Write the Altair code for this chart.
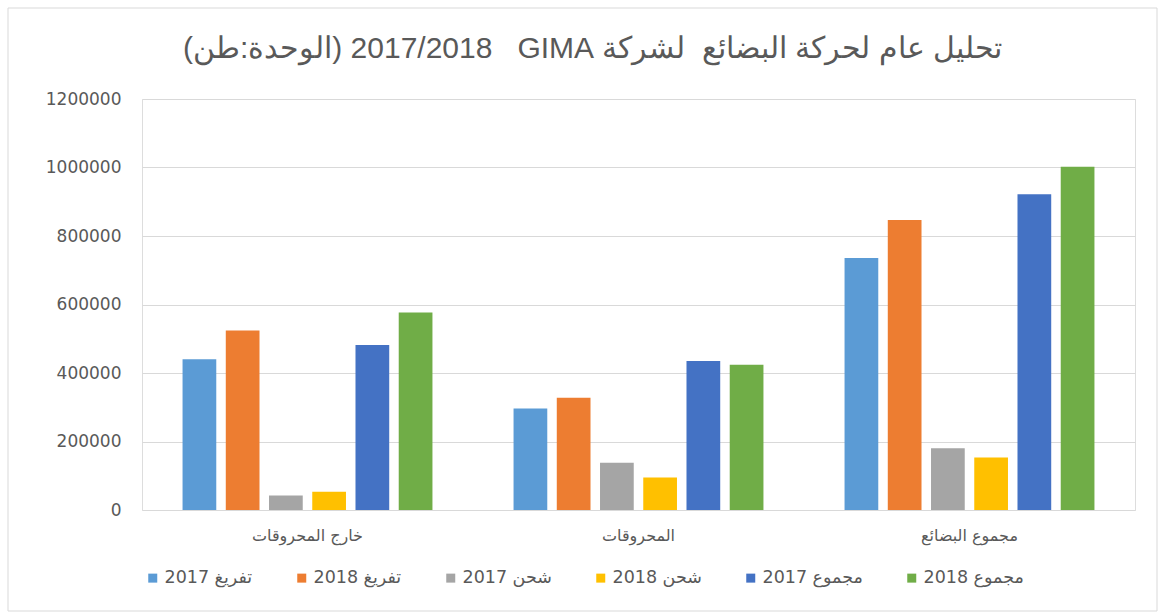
import altair as alt
import pandas as pd

categories = ["خارج المحروقات", "المحروقات", "مجموع البضائع"]
series = ["تفريغ 2017", "تفريغ 2018", "شحن 2017", "شحن 2018", "مجموع 2017", "مجموع 2018"]
colors = ["#5B9BD5", "#ED7D31", "#A5A5A5", "#FFC000", "#4472C4", "#70AD47"]

unload_2017 = [440000, 296000, 736000]
unload_2018 = [524000, 328000, 847000]
load_2017 = [42000, 138000, 180000]
load_2018 = [53000, 95000, 153000]
total_2017 = [482000, 435000, 922000]
total_2018 = [577000, 424000, 1002000]

y_ticks = [0, 200000, 400000, 600000, 800000, 1000000, 1200000]

title_text = ("\u202Bتحليل عام لحركة البضائع\u00A0 لشركة GIMA\u200F\u00A0\u00A0\u00A0"
              "2017/2018 (الوحدة:طن)\u202C")

values_by_series = [unload_2017, unload_2018, load_2017, load_2018, total_2017, total_2018]
rows = []
for s, vals in zip(series, values_by_series):
    for c, v in zip(categories, vals):
        rows.append({"category": c, "series": s, "value": v})
df = pd.DataFrame(rows)

GRAY_TEXT = "#595959"

bars = alt.Chart(df).mark_bar().encode(
    x=alt.X("category:N", sort=categories, title=None,
            scale=alt.Scale(paddingInner=0.245, paddingOuter=0.1225),
            axis=alt.Axis(labelAngle=0, domain=False, ticks=False, labelPadding=17,
                          labelFontSize=16, labelColor=GRAY_TEXT, labelFont="DejaVu Sans")),
    xOffset=alt.XOffset("series:N", sort=series, scale=alt.Scale(paddingInner=0.22)),
    y=alt.Y("value:Q", title=None,
            scale=alt.Scale(domain=[0, 1200000], nice=False),
            axis=alt.Axis(values=y_ticks, format="d", domain=False, ticks=False,
                          labelPadding=21, labelFontSize=17, labelColor=GRAY_TEXT,
                          labelFont="DejaVu Sans", gridColor="#D9D9D9", gridWidth=1)),
    color=alt.Color("series:N", sort=series,
                    scale=alt.Scale(domain=series, range=colors),
                    legend=alt.Legend(title=None, orient="none", direction="horizontal",
                                      legendX=2, legendY=470, symbolType="square",
                                      symbolSize=81, symbolStrokeWidth=0,
                                      labelFontSize=17.5, labelColor=GRAY_TEXT,
                                      labelFont="DejaVu Sans", columnPadding=40,
                                      labelOffset=3)),
)

border = alt.Chart(alt.Data(values=[{}])).mark_rect(
    fill=None, stroke="#D9D9D9", strokeWidth=1
).encode(
    x=alt.value(-134), x2=alt.value(1015), y=alt.value(-91), y2=alt.value(512)
)

chart = alt.layer(border, bars).properties(
    width=993,
    height=411,
    autosize=alt.AutoSizeParams(type="none"),
    padding={"left": 142, "top": 99, "right": 27, "bottom": 105},
    title=alt.Title(text=title_text, fontSize=30, font="Liberation Sans",
                    fontWeight="normal", color=GRAY_TEXT, anchor="middle",
                    dx=-46, offset=-56),
).configure_view(stroke=None).configure(background="white")

chart.save("out.html", embed_options={"renderer": "svg", "actions": False})
